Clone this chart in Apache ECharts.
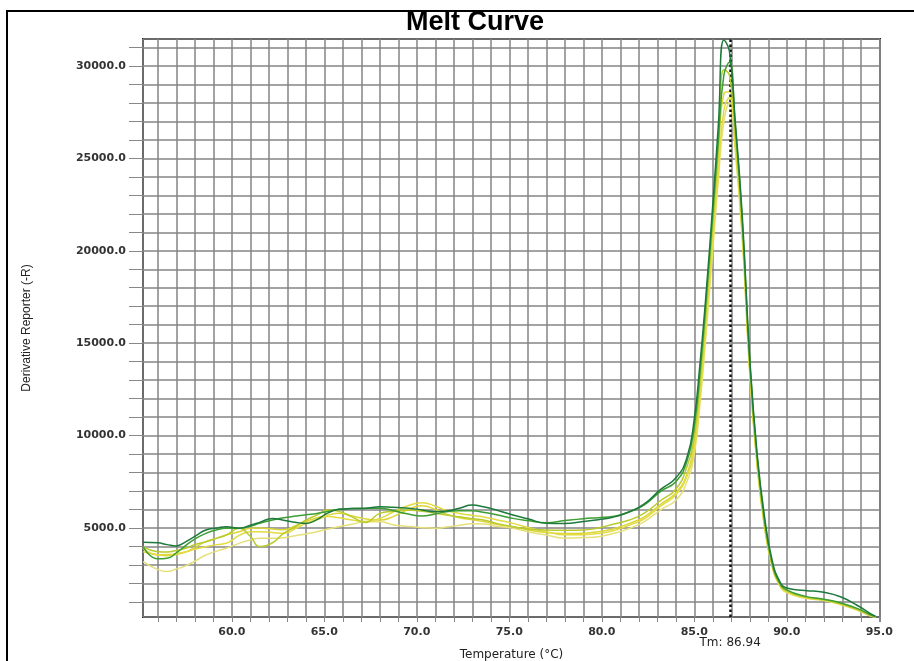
<!DOCTYPE html>
<html>
<head>
<meta charset="utf-8">
<script src="https://cdn.jsdelivr.net/npm/echarts@6/dist/echarts.min.js"></script>
<style>
html,body{margin:0;padding:0;background:#fff;}
#chart{width:914px;height:661px;}
</style>
</head>
<body>
<div id="chart"></div>
<script>
const temps = [55.2, 56, 56.5, 57, 57.5, 58, 58.6, 59.2, 59.7, 60.4, 61, 61.5, 62.2, 62.8, 63.5, 64, 64.6, 65.2, 65.8, 66.5, 67.2, 68, 68.7, 69.4, 70.3, 71, 71.6, 72.3, 73, 73.6, 74.3, 75.2, 76, 77, 78, 79, 79.8, 80.6, 81.5, 82.3, 83.2, 84, 84.6, 85, 85.3, 85.6, 86, 86.3, 86.6, 86.9, 87.2, 87.6, 88, 88.4, 88.8, 89.2, 89.6, 90, 91, 92, 92.9, 93.8, 94.5, 94.8];

const wellA = [4230, 4200, 4100, 4030, 4250, 4550, 4890, 5000, 5070, 4990, 5150, 5300, 5520, 5420, 5300, 5250, 5450, 5820, 6010, 6050, 6060, 6150, 6120, 6080, 5980, 5880, 5920, 6070, 6240, 6150, 5970, 5700, 5500, 5260, 5250, 5350, 5450, 5580, 5880, 6300, 7100, 7700, 8800, 10900, 13800, 17200, 22500, 26800, 31400, 30800, 27200, 21800, 14200, 9000, 5600, 3300, 2150, 1750, 1620, 1520, 1280, 820, 380, 230];
const wellB = [3990, 3330, 3360, 3650, 4050, 4400, 4710, 4900, 4980, 4990, 5100, 5250, 5430, 5550, 5650, 5720, 5790, 5900, 6010, 6060, 6065, 6065, 5950, 5780, 5650, 5760, 5880, 5930, 5940, 5850, 5720, 5520, 5400, 5290, 5400, 5500, 5560, 5620, 5880, 6250, 7000, 7500, 8600, 10500, 13300, 16800, 22000, 26000, 29500, 30200, 27000, 21500, 14000, 8800, 5400, 3150, 2050, 1650, 1300, 1150, 950, 650, 320, 200];
const wellC = [3990, 3720, 3700, 3780, 3900, 4100, 4260, 4450, 4620, 4980, 4550, 4000, 4200, 4710, 5100, 5430, 5700, 5970, 5900, 5600, 5300, 5790, 5900, 5980, 5900, 5800, 5700, 5610, 5500, 5430, 5250, 5070, 4950, 4890, 4880, 4890, 5000, 5200, 5430, 5800, 6500, 7100, 8300, 10000, 12800, 16300, 21500, 25500, 29800, 29500, 26500, 21200, 13700, 8600, 5200, 3050, 2000, 1600, 1260, 1120, 900, 600, 280, 180];
const wellD = [3900, 3540, 3560, 3620, 3700, 3850, 3990, 4100, 4170, 4600, 4800, 4800, 4750, 4710, 5000, 5250, 5450, 5620, 5550, 5430, 5350, 5520, 5850, 6160, 6370, 6180, 5950, 5790, 5680, 5600, 5450, 5250, 5030, 4800, 4630, 4640, 4700, 4850, 5160, 5500, 6200, 6800, 7800, 9300, 12000, 15500, 20500, 24200, 27600, 28300, 25800, 20800, 13500, 8400, 5100, 3000, 1950, 1550, 1240, 1100, 880, 580, 260, 170];
const wellE = [3180, 2750, 2640, 2780, 2950, 3200, 3540, 3750, 3900, 4170, 4350, 4440, 4440, 4470, 4600, 4680, 4800, 4950, 5070, 5200, 5340, 5340, 5180, 5100, 5020, 4990, 5050, 5150, 5230, 5220, 5100, 4980, 4800, 4620, 4450, 4480, 4530, 4700, 4980, 5350, 6000, 6500, 7500, 9000, 11600, 15000, 20000, 23800, 27000, 28000, 25600, 20500, 13300, 8300, 5000, 2950, 1900, 1500, 1200, 1070, 850, 560, 250, 160];
const wellF = [3720, 3550, 3500, 3560, 3700, 3950, 4260, 4450, 4620, 4800, 4980, 5000, 4950, 4900, 5150, 5350, 5550, 5700, 5800, 5650, 5500, 5430, 5600, 5950, 6200, 6000, 5750, 5550, 5450, 5350, 5200, 5070, 4900, 4750, 4700, 4720, 4800, 4950, 5250, 5600, 6300, 6900, 7900, 9600, 12300, 15900, 21000, 25000, 28500, 28600, 26000, 21000, 13600, 8500, 5150, 3000, 1950, 1580, 1250, 1110, 890, 590, 270, 175];

const wells = [wellE, wellF, wellD, wellC, wellB, wellA];
const wellColors = ['#e6e07a', '#dcd638', '#e2dc40', '#b9cb2c', '#3d9e33', '#1d7a3c'];
const tmValue = 86.94;
const xMin = 55.2, xMax = 95.04, yMin = 184, yMax = 31460;

const chart = echarts.init(document.getElementById('chart'));
const font = 'Liberation Sans, Arial, sans-serif';
const tickFont = 'DejaVu Sans, Verdana, sans-serif';

const series = wells.map((w, k) => ({
  type: 'line',
  data: temps.map((t, i) => [t, w[i]]),
  smooth: true,
  showSymbol: false,
  lineStyle: { color: wellColors[k], width: 1.5 },
  z: 3 + k
}));
series.push({
  type: 'line',
  data: [],
  markLine: {
    silent: true,
    symbol: 'none',
    lineStyle: { color: '#111', type: 'dotted', width: 2.5 },
    label: {
      show: true,
      position: 'start',
      distance: [0, 20],
      formatter: 'Tm: ' + tmValue.toFixed(2),
      color: '#222',
      fontSize: 12,
      fontFamily: tickFont
    },
    data: [{ xAxis: tmValue }]
  },
  z: 10
});

chart.setOption({
  animation: false,
  title: {
    text: 'Melt Curve',
    left: 470,
    textAlign: 'center',
    top: 4,
    textStyle: { fontSize: 27, fontWeight: 'bold', color: '#000', fontFamily: font }
  },
  graphic: [{
    type: 'rect',
    shape: { x: 7, y: 11, width: 920, height: 700 },
    style: { fill: 'none', stroke: '#000', lineWidth: 2 },
    z: -1
  }],
  grid: {
    left: 143, right: 34, top: 39, bottom: 44,
    outerBoundsMode: 'none',
    containLabel: false,
    show: true, borderColor: '#222', borderWidth: 2, backgroundColor: 'transparent'
  },
  xAxis: {
    type: 'value',
    min: xMin, max: xMax,
    minInterval: 1, maxInterval: 1,
    name: 'Temperature (°C)',
    nameLocation: 'middle',
    nameGap: 32,
    nameTextStyle: { fontSize: 12, color: '#222', fontFamily: tickFont },
    axisLine: { show: false },
    axisTick: { show: true, length: 5, lineStyle: { color: '#888' } },
    splitLine: { show: true, lineStyle: { color: '#858585', width: 1.5 } },
    axisLabel: {
      margin: 10,
      fontSize: 11, fontWeight: 'bold', color: '#333', fontFamily: tickFont,
      showMinLabel: false, showMaxLabel: true,
      formatter: v => (Math.abs(v % 5) < 1e-6 ? v.toFixed(1) : '')
    }
  },
  yAxis: {
    type: 'value',
    min: yMin, max: yMax,
    minInterval: 1000, maxInterval: 1000,
    name: 'Derivative Reporter (-R)',
    nameLocation: 'middle',
    nameGap: 110,
    nameTextStyle: { fontSize: 12, color: '#222', fontFamily: 'Liberation Sans Narrow, Arial Narrow, sans-serif' },
    axisLine: { show: false },
    axisTick: { show: true, length: 14, lineStyle: { color: '#888' } },
    splitLine: { show: true, lineStyle: { color: '#858585', width: 1.5 } },
    axisLabel: {
      margin: 17,
      fontSize: 11, fontWeight: 'bold', color: '#333', fontFamily: tickFont,
      showMinLabel: false, showMaxLabel: false,
      formatter: v => (v > 0 && Math.abs(v % 5000) < 1e-6 ? v.toFixed(1) : '')
    }
  },
  series: series
});
</script>
</body>
</html>
